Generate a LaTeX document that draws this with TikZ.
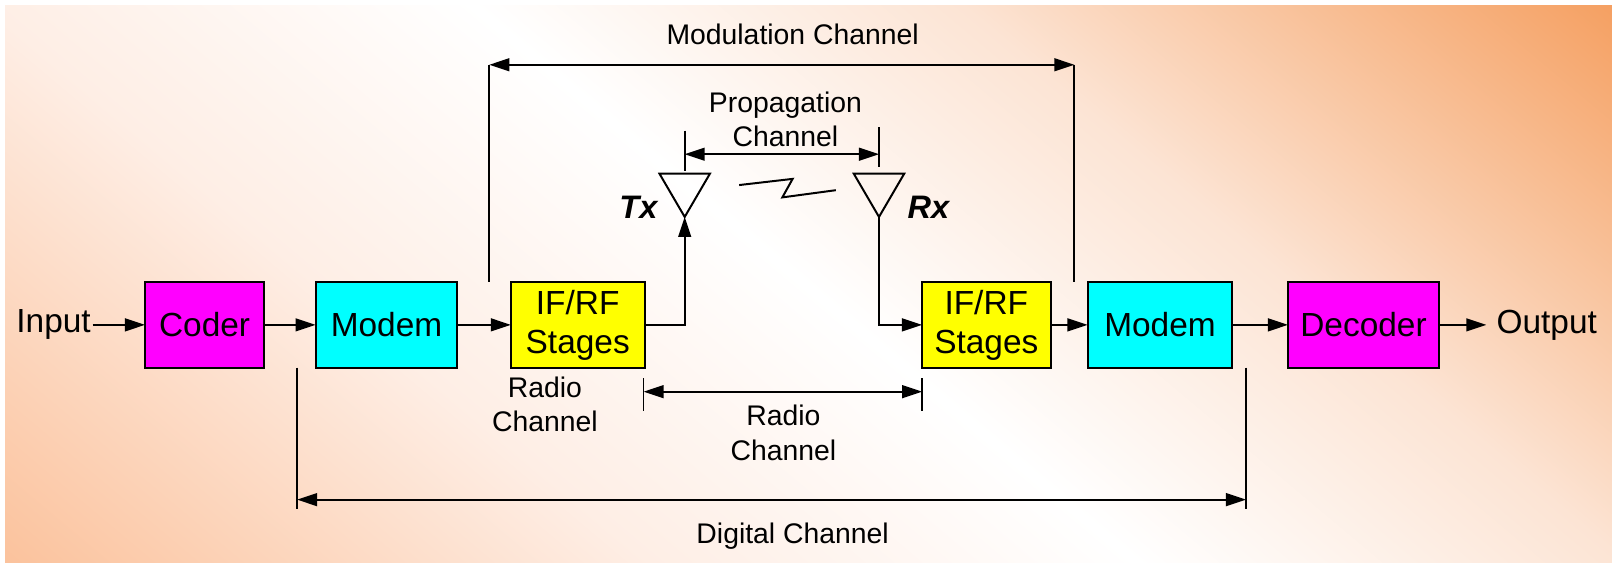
\documentclass[tikz,border=0pt]{standalone}
\usepackage{fontspec}
\setmainfont{Liberation Sans}
\usetikzlibrary{arrows.meta}
\usetikzlibrary{positioning}

\definecolor{bgbl}{HTML}{FBC29C}
\definecolor{bgpale}{HTML}{FEEEE5}
\definecolor{bgpaler}{HTML}{FCE4D4}
\definecolor{bgtr}{HTML}{F5A062}
\definecolor{boxmag}{HTML}{FF00FF}
\definecolor{boxcyan}{HTML}{00FFFF}
\definecolor{boxyel}{HTML}{FFFF00}
\pgfdeclarehorizontalshading{glow}{100bp}{color(0bp)=(bgbl); color(29bp)=(bgbl);
  color(41bp)=(bgpale); color(50bp)=(white); color(59bp)=(bgpaler);
  color(71bp)=(bgtr); color(100bp)=(bgtr)}

\begin{document}
\begin{tikzpicture}[x=0.02cm,y=-0.02cm,>={Triangle[length=3.9mm,width=2.5mm]},line width=1pt,
  box/.style={draw,line width=1.1pt,outer sep=0pt,minimum height=1.66cm,inner sep=2pt,align=center,
    font=\fontsize{18.5}{21.6}\selectfont},
  io/.style={inner sep=1pt,outer sep=0pt,font=\fontsize{18.5}{21.6}\selectfont},
  chan/.style={align=center,inner sep=1pt,font=\fontsize{15.7}{19}\selectfont},
  antlabel/.style={inner sep=1pt,font=\fontsize{18}{20}\selectfont\bfseries\itshape}]

  % background
  \useasboundingbox (0,0) rectangle (1568,547);
  \fill[white] (0,0) rectangle (1568,547);
  \begin{scope}
    \clip (5,5) rectangle (1568,547);
    \shade[shading=glow,shading angle=50] (784,276) circle[radius=17cm];
  \end{scope}

  % the chain
  \node[box,fill=boxmag,minimum width=2.32cm] (coder) at (199,316) {Coder};
  \node[box,fill=boxcyan,minimum width=2.76cm] (modem1) [right=1cm of coder] {Modem};
  \node[box,fill=boxyel,minimum width=2.6cm] (rf1) [right=1.04cm of modem1] {IF/RF\\Stages};
  \node[box,fill=boxyel,minimum width=2.5cm] (rf2) [right=5.4cm of rf1] {IF/RF\\Stages};
  \node[box,fill=boxcyan,minimum width=2.82cm] (modem2) [right=0.72cm of rf2] {Modem};
  \node[box,fill=boxmag,minimum width=2.94cm] (decoder) [right=1.08cm of modem2] {Decoder};
  \node[io] (in) [left=1.02cm of coder] {Input};
  \node[io,inner xsep=0.2cm] (out) [right=0.92cm of decoder] {Output};

  \path[->]
    (in) edge (coder)
    (coder) edge (modem1)
    (modem1) edge (rf1)
    (rf2) edge (modem2)
    (modem2) edge (decoder)
    (decoder) edge (out);

  % antennas
  \coordinate (txtip) at (666,211);
  \coordinate (rxtip) at (855,211);
  \draw[line width=1.1pt] (txtip) -- ++(-24.5,-42) -- ++(49,0) -- cycle;
  \draw[line width=1.1pt] (rxtip) -- ++(-24.5,-42) -- ++(49,0) -- cycle;
  \node[antlabel] (tx) at (621,202) {Tx};
  \node[antlabel] (rx) at (903,202) {Rx};
  \draw[->] (rf1) -| (txtip);
  \draw[->] (rxtip) |- (rf2);
  \draw[line width=1.1pt] (719,180) -- (771,174) -- (761,192) -- (813,185);

  % modulation channel
  \coordinate (modl) at (476,63);
  \coordinate (modr) at (1045,63);
  \draw (modl) -- (modl |- rf1.north);
  \draw (modr) -- (modr |- modem2.north);
  \draw[<->] (modl) -- (modr);
  \node[chan] (modlbl) at (771,33) {Modulation Channel};

  % propagation channel
  \coordinate (propl) at (666,150);
  \coordinate (propr) at (855,150);
  \draw (666,127) -- (666,166);
  \draw (855,124) -- (855,162);
  \draw[<->] (propl) -- (propr);
  \node[chan] (proplbl) at (764,116) {Propagation\\Channel};

  % radio channel
  \coordinate (radl) at (626,381);
  \coordinate (radr) at (897,381);
  \draw (626,368) -- (626,400);
  \draw (897,368) -- (897,400);
  \draw[<->] (radl) -- (radr);
  \node[chan] (radlbl) at (762,421) {Radio\\Channel};
  \node[chan] (radlbl2) at (530,393) {Radio\\Channel};

  % digital channel
  \coordinate (digl) at (289,486);
  \coordinate (digr) at (1212,486);
  \draw (digl |- modem1.south) -- (289,495);
  \draw (digr |- modem2.south) -- (1212,495);
  \draw[<->] (digl) -- (digr);
  \node[chan] (diglbl) at (771,522) {Digital Channel};
\end{tikzpicture}
\end{document}
